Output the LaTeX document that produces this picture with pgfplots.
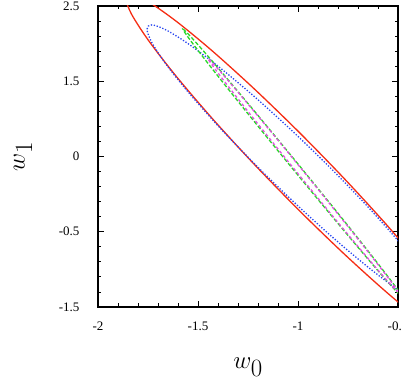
\documentclass[border=0pt]{standalone}
\usepackage{fontspec}
\setmainfont{Liberation Serif}
\usepackage{pgfplots}
\pgfplotsset{compat=1.18}
\definecolor{cred}{RGB}{245,45,20}
\definecolor{cblue}{RGB}{40,70,240}
\definecolor{cgreen}{RGB}{40,215,40}
\definecolor{cmag}{RGB}{225,80,225}
\begin{document}
\begin{tikzpicture}
\begin{axis}[
  scale only axis, width=300pt, height=301pt,
  xmin=-2, xmax=-0.5, ymin=-1.5, ymax=2.5,
  xtick={-2,-1.5,-1,-0.5}, xticklabels={-2,-1.5,-1,-0.5},
  ytick={-1.5,-0.5,0.5,1.5,2.5}, yticklabels={-1.5,-0.5,0,1.5,2.5},
  minor tick num=4,
  tick align=inside,
  major tick length=6pt, minor tick length=3.5pt,
  every tick/.style={black, line width=0.8pt},
  axis line style={line width=1.2pt},
  ticklabel style={font=\fontsize{13}{15}\selectfont},
  xticklabel style={yshift=-11pt},
  yticklabel style={xshift=-15pt},
  xlabel={$w_0$}, ylabel={$w_1$},
  label style={font=\fontsize{36}{40}\selectfont},
  xlabel style={at={(axis description cs:0.5,-0.2)}, anchor=center},
  ylabel style={at={(axis description cs:-0.25,0.5)}, anchor=center},
]
% red solid
\addplot[cred, line width=1.3pt, smooth] coordinates {
(-0.127,-1.9956) (-0.1566,-1.783) (-0.2432,-1.4282) (-0.3809,-0.9556) (-0.5605,-0.3973)
(-0.7696,0.2087) (-0.994,0.821) (-1.2184,1.3979) (-1.4275,1.9003) (-1.6071,2.2936)
(-1.7448,2.5512) (-1.8314,2.6556) (-1.861,2.5996) (-1.8314,2.387) (-1.7448,2.0322)
(-1.6071,1.5596) (-1.4275,1.0013) (-1.2184,0.3953) (-0.994,-0.217) (-0.7696,-0.7939)
(-0.5605,-1.2963) (-0.3809,-1.6896) (-0.2432,-1.9472) (-0.1566,-2.0516) (-0.127,-1.9956)
};
% blue dotted
\addplot[cblue, line width=1.3pt, dash pattern=on 1.3pt off 1.7pt, smooth] coordinates {
(-0.2845,-1.4835) (-0.3096,-1.3011) (-0.383,-1.0059) (-0.4999,-0.6182) (-0.6521,-0.164)
(-0.8295,0.3255) (-1.0198,0.817) (-1.2101,1.2769) (-1.3875,1.674) (-1.5397,1.9812)
(-1.6566,2.1775) (-1.73,2.2495) (-1.7551,2.1925) (-1.73,2.0101) (-1.6566,1.7149)
(-1.5397,1.3272) (-1.3875,0.873) (-1.2101,0.3835) (-1.0198,-0.108) (-0.8295,-0.5679)
(-0.6521,-0.965) (-0.4999,-1.2722) (-0.383,-1.4685) (-0.3096,-1.5405) (-0.2845,-1.4835)
};
% green dashed
\addplot[cgreen, line width=1.3pt, dash pattern=on 4pt off 2pt, smooth] coordinates {
(-0.48,-1.36) (-0.4987,-1.2801) (-0.5534,-1.0847) (-0.6404,-0.7871) (-0.7537,-0.4075)
(-0.8858,0.028) (-1.0275,0.49) (-1.1692,0.9468) (-1.3013,1.3675) (-1.4146,1.7231)
(-1.5016,1.9897) (-1.5563,2.1489) (-1.575,2.19) (-1.5563,2.1101) (-1.5016,1.9147)
(-1.4146,1.6171) (-1.3013,1.2375) (-1.1692,0.802) (-1.0275,0.34) (-0.8858,-0.1168)
(-0.7537,-0.5375) (-0.6404,-0.8931) (-0.5534,-1.1597) (-0.4987,-1.3189) (-0.48,-1.36)
};
% magenta dash-dot
\addplot[cmag, line width=1.3pt, dash pattern=on 3pt off 2.5pt, smooth] coordinates {
(-0.5,-1.3) (-0.5162,-1.2316) (-0.5636,-1.0623) (-0.6391,-0.8036) (-0.7375,-0.473)
(-0.8521,-0.0931) (-0.975,0.31) (-1.0979,0.7091) (-1.2125,1.077) (-1.3109,1.3884)
(-1.3864,1.6223) (-1.4338,1.7626) (-1.45,1.80) (-1.4338,1.7316) (-1.3864,1.5623)
(-1.3109,1.3036) (-1.2125,0.973) (-1.0979,0.5931) (-0.975,0.19) (-0.8521,-0.2091)
(-0.7375,-0.577) (-0.6391,-0.8884) (-0.5636,-1.1223) (-0.5162,-1.2626) (-0.5,-1.3)
};
\coordinate (sw) at (rel axis cs:0,0);
\coordinate (ne) at (rel axis cs:1,1);
\end{axis}
\pgfresetboundingbox
\useasboundingbox ([xshift=-98pt,yshift=-78pt]sw) rectangle ([xshift=3pt,yshift=6pt]ne);
\end{tikzpicture}
\end{document}
